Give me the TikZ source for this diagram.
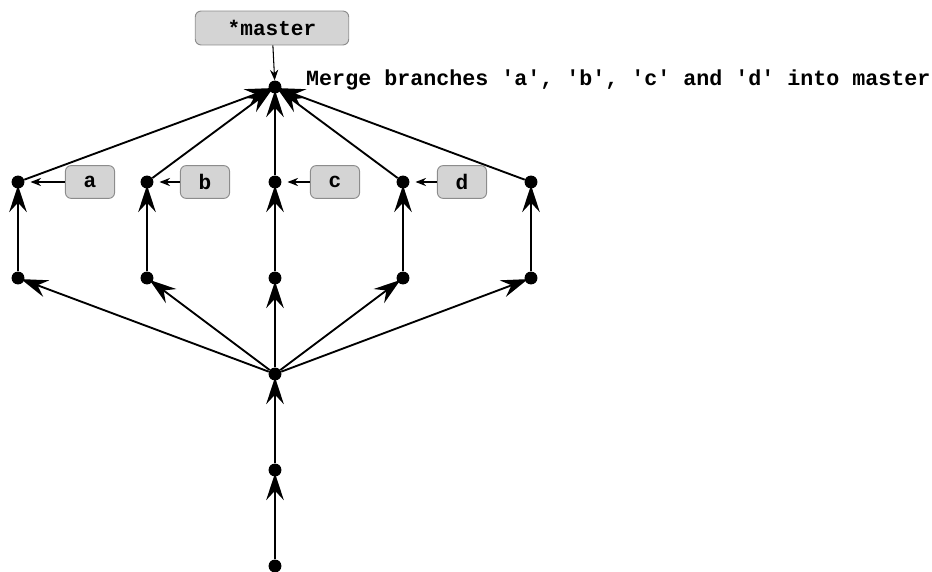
\documentclass[tikz,border=0pt]{standalone}
\usepackage{fontspec}
\newfontfamily\gitmono{Liberation Mono}
\usetikzlibrary{arrows.meta, positioning}

\begin{document}
\begin{tikzpicture}[
    x=0.03cm, y=-0.03cm,
    commit/.style={circle, fill=black, inner sep=0pt, minimum size=11pt},
    branch/.style={rectangle, rounded corners=5pt, draw=black!45, fill=black!17, line width=0.8pt,
        font=\gitmono\bfseries\fontsize{18}{20}\selectfont, minimum height=28pt, inner xsep=6pt},
    history/.style={line width=1.6pt, shorten >=-3pt, -{Stealth[length=23pt, width=15pt, inset=8pt]}},
    ref/.style={line width=0.9pt, -{Stealth[length=9pt, width=7pt, inset=3pt]}}
]
\useasboundingbox (0,0) rectangle (932,572);

% commits
\node[commit] (root) at (275, 566) {};
\node[commit] (c0) at (275, 470) {};
\node[commit] (fork) at (275, 374) {};
\node[commit] (a2) at (18, 278) {};
\node[commit] (b2) at (147, 278) {};
\node[commit] (c2) at (275, 278) {};
\node[commit] (d2) at (403, 278) {};
\node[commit] (e2) at (531, 278) {};
\node[commit] (a1) at (18, 182) {};
\node[commit] (b1) at (147, 182) {};
\node[commit] (c1) at (275, 182) {};
\node[commit] (d1) at (403, 182) {};
\node[commit] (e1) at (531, 182) {};
\node[commit] (merge) at (275, 87) {};

% branch labels
\node[branch, minimum width=131pt, minimum height=29pt] (master) at (272, 28) {*master};
\node[branch, minimum width=42pt] (la) at (90, 182) {a};
\node[branch, minimum width=42pt] (lb) at (205, 182) {b};
\node[branch, minimum width=42pt] (lc) at (335, 182) {c};
\node[branch, minimum width=42pt] (ld) at (462, 182) {d};
\node[anchor=west, inner sep=0pt, font=\gitmono\bfseries\fontsize{18.5}{20}\selectfont] (msg)
    at (306, 80) {Merge branches 'a', 'b', 'c' and 'd' into master};

% history
\draw[history] (root) -- (c0);
\draw[history] (c0) -- (fork);
\foreach \b in {a,b,c,d,e} {
    \draw[history] (fork) -- (\b2);
    \draw[history] (\b2) -- (\b1);
    \draw[history] (\b1) -- (merge);
}

% refs
\draw[ref] (master) -- (merge);
\draw[ref] (la) -- ([xshift=5pt]a1.east);
\draw[ref] (lb) -- ([xshift=5pt]b1.east);
\draw[ref] (lc) -- ([xshift=5pt]c1.east);
\draw[ref] (ld) -- ([xshift=5pt]d1.east);
\end{tikzpicture}
\end{document}
